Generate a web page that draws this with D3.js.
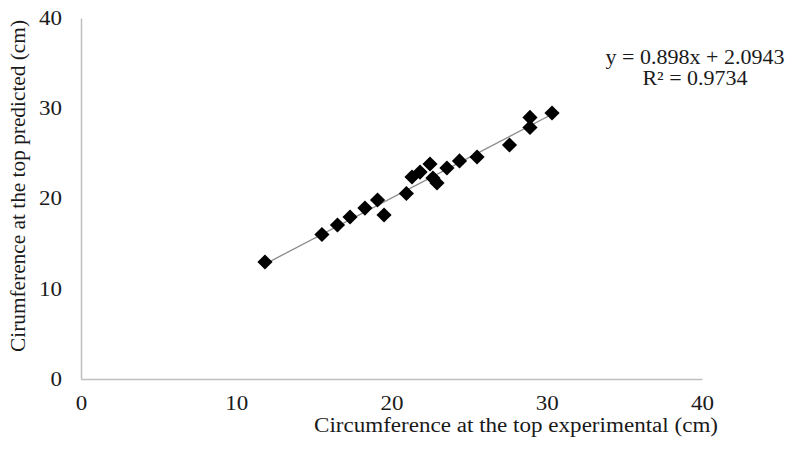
<!DOCTYPE html>
<html>
<head>
<meta charset="utf-8">
<script src="https://cdn.jsdelivr.net/npm/d3@7"></script>
<style>
  html, body { margin: 0; padding: 0; background: #fff; }
  svg { display: block; }
  text { font-family: "Liberation Serif", "Times New Roman", serif; fill: #1a1a1a; }
</style>
</head>
<body>
<svg id="chart" width="790" height="464"></svg>
<script>
// Data
const experimental = [11.85, 15.52, 16.52, 17.33, 18.29, 19.10, 19.52, 20.96, 21.32, 21.84, 22.48, 22.67, 22.93, 23.57, 24.38, 25.51, 27.60, 28.92, 28.92, 30.34];
const predicted    = [12.96, 16.01, 17.06, 17.95, 18.94, 19.83, 18.17, 20.55, 22.38, 22.93, 23.82, 22.27, 21.72, 23.38, 24.16, 24.60, 25.93, 28.98, 27.87, 29.47];
const xTicks = [0, 10, 20, 30, 40];
const yTicks = [0, 10, 20, 30, 40];
const slope = 0.898, intercept = 2.0943;
const equationLines = ["y = 0.898x + 2.0943", "R² = 0.9734"];
const xTitle = "Circumference at the top experimental (cm)";
const yTitle = "Cirumference at the top predicted (cm)";

const svg = d3.select("#chart");
const x = d3.scaleLinear().domain([0, 40]).range([81, 702]);
const y = d3.scaleLinear().domain([0, 40]).range([379, 18]);

// horizontal stretch of text, as in the reference picture
function stretch(sel, k) {
  sel.each(function () {
    const len = this.getComputedTextLength();
    d3.select(this).attr("textLength", len * k).attr("lengthAdjust", "spacingAndGlyphs");
  });
}

// axes
const xAxis = svg.append("g").attr("transform", `translate(0,${y(0)})`)
  .call(d3.axisBottom(x).tickValues(xTicks).tickSize(0).tickPadding(17));
const yAxis = svg.append("g").attr("transform", `translate(${x(0)},0)`)
  .call(d3.axisLeft(y).tickValues(yTicks).tickSize(0).tickPadding(19));
[xAxis, yAxis].forEach(g => {
  g.select(".domain").attr("stroke", "#bfbfbf").attr("stroke-width", 1.5);
  g.selectAll("text").attr("font-family", "Liberation Serif").attr("font-size", 20).attr("fill", "#1a1a1a")
    .call(stretch, 1.15);
});

// trend line
const xs = d3.extent(experimental);
svg.append("line")
  .attr("x1", x(xs[0])).attr("y1", y(slope * xs[0] + intercept))
  .attr("x2", x(xs[1])).attr("y2", y(slope * xs[1] + intercept))
  .attr("stroke", "#8c8c8c").attr("stroke-width", 1.3);

// points
const pts = experimental.map((v, i) => ({ x: v, y: predicted[i] }));
const sym = d3.symbol().type(d3.symbolSquare).size(115);
svg.append("g").selectAll("path").data(pts).join("path")
  .attr("d", sym)
  .attr("transform", d => `translate(${x(d.x)},${y(d.y)}) rotate(45)`)
  .attr("fill", "#000");

// titles
svg.append("text").attr("x", 516).attr("y", 432).attr("text-anchor", "middle")
  .attr("font-size", 20).attr("textLength", 404).attr("lengthAdjust", "spacingAndGlyphs").text(xTitle);
svg.append("text").attr("transform", "translate(25,186) rotate(-90)").attr("text-anchor", "middle")
  .attr("font-size", 20).attr("textLength", 332).attr("lengthAdjust", "spacingAndGlyphs").text(yTitle);

// equation
const eq = svg.append("g").selectAll("text").data(equationLines).join("text")
  .attr("x", 695).attr("y", (d, i) => 64 + i * 21).attr("text-anchor", "middle")
  .attr("font-size", 20).text(d => d);
eq.call(stretch, 1.1);
</script>
</body>
</html>
